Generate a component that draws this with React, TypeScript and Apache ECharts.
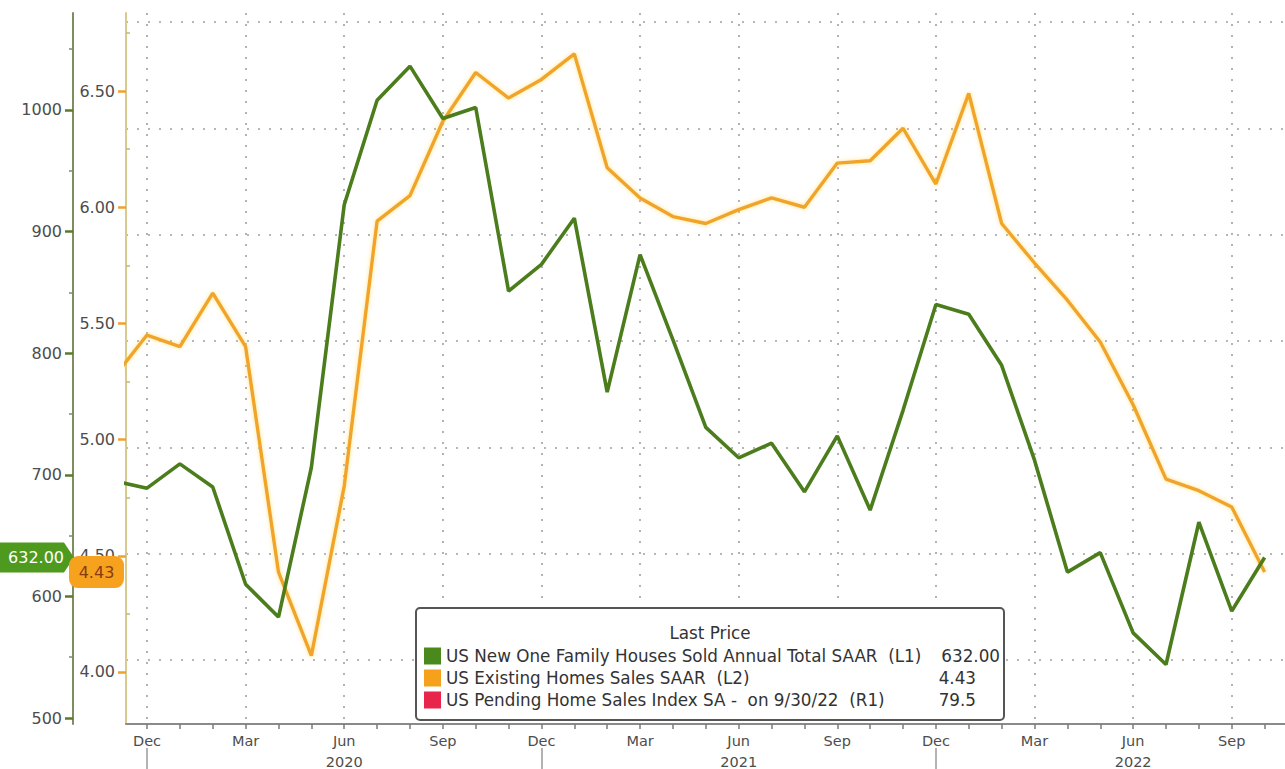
import React, { useEffect, useRef } from 'react';
import * as echarts from 'echarts';

const MONTHS = [
  'Nov 2019', 'Dec 2019',
  'Jan 2020', 'Feb 2020', 'Mar 2020', 'Apr 2020', 'May 2020', 'Jun 2020',
  'Jul 2020', 'Aug 2020', 'Sep 2020', 'Oct 2020', 'Nov 2020', 'Dec 2020',
  'Jan 2021', 'Feb 2021', 'Mar 2021', 'Apr 2021', 'May 2021', 'Jun 2021',
  'Jul 2021', 'Aug 2021', 'Sep 2021', 'Oct 2021', 'Nov 2021', 'Dec 2021',
  'Jan 2022', 'Feb 2022', 'Mar 2022', 'Apr 2022', 'May 2022', 'Jun 2022',
  'Jul 2022', 'Aug 2022', 'Sep 2022', 'Oct 2022',
];

// US New One Family Houses Sold Annual Total SAAR (L1, thousands)
const NEW_HOME_SALES = [
  695, 689, 709, 690, 610, 583, 706, 922, 1008, 1036, 993, 1002,
  851, 873, 911, 768, 881, 811, 739, 714, 726, 686, 732, 671,
  753, 840, 832, 790, 712, 620, 636, 570, 544, 661, 588, 632,
];

// US Existing Homes Sales SAAR (L2, millions)
const EXISTING_HOME_SALES = [
  5.27, 5.45, 5.40, 5.63, 5.40, 4.43, 4.07, 4.80, 5.94, 6.05, 6.37, 6.58,
  6.47, 6.55, 6.66, 6.17, 6.04, 5.96, 5.93, 5.99, 6.04, 6.00, 6.19, 6.20,
  6.34, 6.10, 6.49, 5.93, 5.76, 5.60, 5.42, 5.15, 4.83, 4.78, 4.71, 4.43,
];

const L1_TICKS = [500, 600, 700, 800, 900, 1000];
const L1_MINOR = [550, 650, 750, 850, 950, 1050];
const L2_TICKS = [4.0, 4.5, 5.0, 5.5, 6.0, 6.5];
const L2_MINOR = [4.25, 4.75, 5.25, 5.75, 6.25, 6.75];
const R1_GRID = [70, 80, 90, 100, 110, 120, 130];
const QUARTER_IDX = [1, 4, 7, 10, 13, 16, 19, 22, 25, 28, 31, 34];
const YEAR_LABEL_IDX = [7, 19, 31];
const YEAR_SEP_IDX = [1, 13, 25];

const LEGEND_TITLE = 'Last Price';
const LEGEND_NAMES = [
  'US New One Family Houses Sold Annual Total SAAR  (L1)',
  'US Existing Homes Sales SAAR  (L2)',
  'US Pending Home Sales Index SA -  on 9/30/22  (R1)',
];
const LEGEND_VALUES = ['632.00', '4.43', '79.5'];
const LEGEND_COLORS = ['#4a8a1c', '#f5a11c', '#e8254a'];

const FONT = 'DejaVu Sans';
const GREEN = '#4b7d1d';
const ORANGE = '#f0a52c';

const monthIdx = MONTHS.map((_, i) => i);

export default function App() {
  const ref = useRef<HTMLDivElement>(null);

  useEffect(() => {
    if (!ref.current) return;
    const chart = echarts.init(ref.current, null, { renderer: 'svg' });

    const gridLine = { color: '#a0a0a0', type: [2, 9] as any, width: 1.6 };
    const xMin = 0.361;
    const xMax = 35.62;

    const option: any = {
      animation: false,
      backgroundColor: '#ffffff',
      textStyle: { fontFamily: FONT },
      grid: { left: 126, right: 0, top: 13, bottom: 45, containLabel: false },
      xAxis: [
        {
          type: 'value', min: xMin, max: xMax, position: 'bottom',
          axisLine: { show: true, lineStyle: { color: '#8a8a8a', width: 2 } },
          axisTick: { show: true, customValues: monthIdx, length: 5, lineStyle: { color: '#7a7a7a', width: 1.5 } },
          axisLabel: {
            show: true, customValues: QUARTER_IDX, margin: 9, fontSize: 14.5, color: '#4d4d4d', fontFamily: FONT,
            formatter: (v: number) => MONTHS[Math.round(v)].split(' ')[0],
          },
          splitLine: { show: false },
        },
        {
          type: 'value', min: xMin, max: xMax, position: 'bottom',
          axisLine: { show: false },
          axisTick: { show: false, customValues: QUARTER_IDX },
          axisLabel: { show: false },
          splitLine: { show: true, lineStyle: gridLine },
        },
        {
          type: 'value', min: xMin, max: xMax, position: 'bottom', offset: 24,
          axisLine: { show: false },
          axisTick: { show: true, customValues: YEAR_SEP_IDX, length: 22, lineStyle: { color: '#9a9a9a', width: 1.5 } },
          axisLabel: {
            show: true, customValues: YEAR_LABEL_IDX, margin: 6, fontSize: 14.5, color: '#4d4d4d', fontFamily: FONT,
            formatter: (v: number) => MONTHS[Math.round(v)].split(' ')[1],
          },
          splitLine: { show: false },
        },
      ],
      yAxis: [
        {
          type: 'value', position: 'left', offset: 53, min: 495.1, max: 1079.7,
          axisLine: { show: true, lineStyle: { color: '#7f8c62', width: 2 } },
          axisTick: { show: true, customValues: L1_TICKS, length: 8, lineStyle: { color: '#5a7a2a', width: 2.5 } },
          axisLabel: {
            show: true, customValues: L1_TICKS, margin: 11, fontSize: 16, color: '#4d4d4d', fontFamily: FONT,
            formatter: (v: number) => String(Math.round(v)),
          },
          splitLine: { show: false },
        },
        {
          type: 'value', position: 'left', offset: 53, min: 495.1, max: 1079.7,
          axisLine: { show: false },
          axisTick: { show: true, customValues: L1_MINOR, length: 4, lineStyle: { color: '#7f8c62', width: 1.5 } },
          axisLabel: { show: false },
          splitLine: { show: false },
        },
        {
          type: 'value', position: 'left', offset: 0, min: 3.776, max: 6.836,
          axisLine: { show: true, lineStyle: { color: '#d8c98e', width: 2 } },
          axisTick: { show: true, customValues: L2_TICKS, length: 8, lineStyle: { color: '#f0a030', width: 2.5 } },
          axisLabel: {
            show: true, customValues: L2_TICKS, margin: 11, fontSize: 16, color: '#4d4d4d', fontFamily: FONT,
            formatter: (v: number) => v.toFixed(2),
          },
          splitLine: { show: false },
        },
        {
          type: 'value', position: 'left', offset: 0, min: 3.776, max: 6.836,
          axisLine: { show: false },
          axisTick: { show: true, inside: true, customValues: L2_MINOR, length: 4, lineStyle: { color: '#c9b57a', width: 1.5 } },
          axisLabel: { show: false },
          splitLine: { show: false },
        },
        {
          type: 'value', position: 'right', min: 63.98, max: 130.85,
          axisLine: { show: false },
          axisTick: { show: false, customValues: R1_GRID },
          axisLabel: { show: false },
          splitLine: { show: true, lineStyle: gridLine },
        },
      ],
      series: [
        {
          name: 'US Existing Homes Sales SAAR (L2)',
          type: 'line', xAxisIndex: 0, yAxisIndex: 2, z: 3,
          data: EXISTING_HOME_SALES.map((v, i) => [i, v]),
          showSymbol: false, symbol: 'none',
          lineStyle: { color: ORANGE, width: 3.4, shadowColor: 'rgba(255,214,90,0.7)', shadowBlur: 4 },
        },
        {
          name: 'US New One Family Houses Sold Annual Total SAAR (L1)',
          type: 'line', xAxisIndex: 0, yAxisIndex: 0, z: 4,
          data: NEW_HOME_SALES.map((v, i) => [i, v]),
          showSymbol: false, symbol: 'none',
          lineStyle: { color: GREEN, width: 3.6 },
        },
      ],
    };

    chart.setOption(option);

    const lastNew = NEW_HOME_SALES[NEW_HOME_SALES.length - 1];
    const lastExist = EXISTING_HOME_SALES[EXISTING_HOME_SALES.length - 1];
    const yG = chart.convertToPixel({ yAxisIndex: 0 }, lastNew) as number;
    const yO = chart.convertToPixel({ yAxisIndex: 2 }, lastExist) as number;

    const lx = 416, ly = 608, lw = 588, lh = 112;
    const rowY = [656, 678, 700];
    const lfont = `16.8px "${FONT}"`;
    const legendEls: any[] = [
      {
        type: 'rect', shape: { x: lx, y: ly, width: lw, height: lh, r: 4 },
        style: { fill: '#ffffff', stroke: '#555555', lineWidth: 2 }, z: 100,
      },
      {
        type: 'text', x: 710, y: 633, z: 101,
        style: { text: LEGEND_TITLE, fill: '#333', font: lfont, textAlign: 'center', textVerticalAlign: 'middle' },
      },
    ];
    LEGEND_NAMES.forEach((name, i) => {
      legendEls.push({
        type: 'rect', shape: { x: 424, y: rowY[i] - 8.5, width: 17, height: 17 }, z: 101,
        style: { fill: LEGEND_COLORS[i] },
      });
      legendEls.push({
        type: 'text', x: 446, y: rowY[i], z: 101,
        style: { text: name, fill: '#333', font: lfont, textAlign: 'left', textVerticalAlign: 'middle' },
      });
      legendEls.push({
        type: 'text', x: i === 0 ? 1000 : 976, y: rowY[i], z: 101,
        style: { text: LEGEND_VALUES[i], fill: '#333', font: lfont, textAlign: 'right', textVerticalAlign: 'middle' },
      });
    });

    const flags: any[] = [
      {
        type: 'polygon', z: 110,
        shape: { points: [[-6, yG - 15], [64, yG - 15], [74, yG], [64, yG + 15], [-6, yG + 15]] },
        style: { fill: '#4e9a1f' },
      },
      {
        type: 'text', x: 36, y: yG, z: 111,
        style: { text: lastNew.toFixed(2), fill: '#ffffff', font: `16px "${FONT}"`, textAlign: 'center', textVerticalAlign: 'middle' },
      },
      {
        type: 'rect', z: 112, shape: { x: 69, y: yO - 16, width: 55, height: 32, r: 9 },
        style: { fill: '#f6a21e' },
      },
      {
        type: 'text', x: 96.5, y: yO, z: 113,
        style: { text: lastExist.toFixed(2), fill: '#8a3b12', font: `16px "${FONT}"`, textAlign: 'center', textVerticalAlign: 'middle' },
      },
    ];

    chart.setOption({ graphic: [...legendEls, ...flags] });

    return () => chart.dispose();
  }, []);

  return (
    <div
      ref={ref}
      style={{ position: 'fixed', left: 0, top: 0, width: 1285, height: 769, background: '#fff' }}
    />
  );
}
